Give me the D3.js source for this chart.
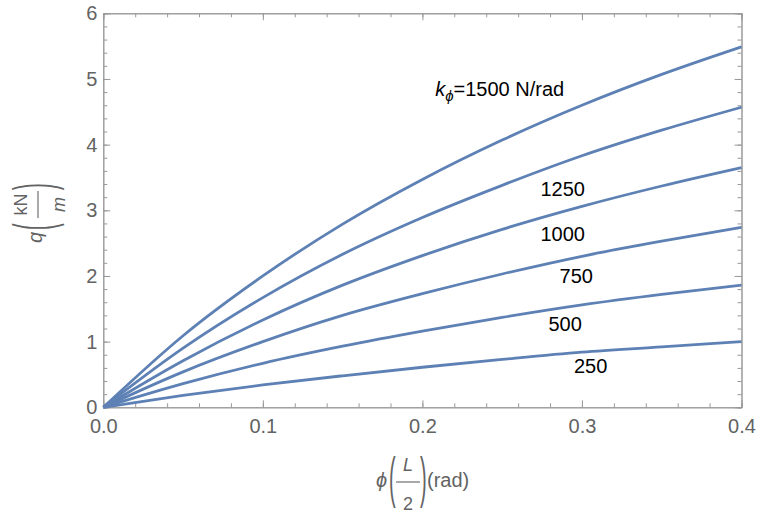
<!DOCTYPE html>
<html>
<head>
<meta charset="utf-8">
<script src="https://cdn.jsdelivr.net/npm/d3@7"></script>
<style>
  body { margin: 0; background: #fff; }
  svg { display: block; }
  text { font-family: "Liberation Sans", Arial, sans-serif; }
</style>
</head>
<body>
<div id="chart"></div>
<script>
// Data: q (kN/m) against phi(L/2) (rad), one series per k_phi
const phi   = [0, 0.05, 0.10, 0.15, 0.20, 0.25, 0.30, 0.35, 0.40];
const q1500 = [0, 1.09, 2.00, 2.79, 3.47, 4.07, 4.60, 5.07, 5.49];
const q1250 = [0, 0.90, 1.67, 2.33, 2.89, 3.38, 3.83, 4.22, 4.57];
const q1000 = [0, 0.71, 1.33, 1.86, 2.31, 2.71, 3.06, 3.37, 3.65];
const q750  = [0, 0.54, 1.00, 1.40, 1.73, 2.03, 2.30, 2.53, 2.74];
const q500  = [0, 0.36, 0.67, 0.93, 1.16, 1.37, 1.56, 1.72, 1.86];
const q250  = [0, 0.18, 0.34, 0.48, 0.61, 0.73, 0.84, 0.92, 1.00];

const stiffness = [1500, 1250, 1000, 750, 500, 250];
const series = [q1500, q1250, q1000, q750, q500, q250];

const xTicks = [0, 0.1, 0.2, 0.3, 0.4];
const yTicks = [0, 1, 2, 3, 4, 5, 6];

// where the curve labels sit, in data units (phi, q)
const labelAt = [[0.208, 4.74], [0.274, 3.22], [0.274, 2.54], [0.286, 1.90], [0.279, 1.16], [0.295, 0.52]];

////////////////////////////////////////////////////////////////

// SVG
const w = 757;
const h = 516;
const margin = {left: 103.3, right: 15.5, top: 13.3, bottom: 108.7};

const svg = d3.select("#chart")
    .append("svg")
    .attr("width", w)
    .attr("height", h);

const x = d3.scaleLinear().domain([0, 0.4]).range([margin.left, w - margin.right]);
const y = d3.scaleLinear().domain([0, 6]).range([h - margin.bottom, margin.top]);

const frameColor = "#999";
const labelColor = "#636363";
const lineColor = "#5E81B5";

////////////////////////////////////////////////////////////////

// FRAME + TICKS (inward, on all four sides)
const minorX = d3.range(0, 0.4001, 0.02);
const minorY = d3.range(0, 6.001, 0.2);

function styleAxis(g) {
    g.selectAll("path").attr("stroke", frameColor);
    g.selectAll("line").attr("stroke", frameColor);
    g.selectAll("text")
        .attr("fill", labelColor)
        .style("font-size", "20px");
}

function addAxis(axis, tx, ty) {
    svg.append("g")
        .attr("transform", "translate(" + tx + "," + ty + ")")
        .call(axis)
        .call(styleAxis);
}

const bottom = h - margin.bottom;
const right = w - margin.right;

// minor ticks
addAxis(d3.axisBottom(x).tickValues(minorX).tickSize(-4).tickFormat(""), 0, bottom);
addAxis(d3.axisTop(x).tickValues(minorX).tickSize(-4).tickFormat(""), 0, margin.top);
addAxis(d3.axisLeft(y).tickValues(minorY).tickSize(-4).tickFormat(""), margin.left, 0);
addAxis(d3.axisRight(y).tickValues(minorY).tickSize(-4).tickFormat(""), right, 0);

// major ticks with labels
addAxis(d3.axisBottom(x).tickValues(xTicks).tickSize(-7).tickSizeOuter(0)
    .tickPadding(11.5).tickFormat(d3.format(".1f")), 0, bottom);
addAxis(d3.axisTop(x).tickValues(xTicks).tickSize(-7).tickSizeOuter(0).tickFormat(""), 0, margin.top);
addAxis(d3.axisLeft(y).tickValues(yTicks).tickSize(-7).tickSizeOuter(0)
    .tickPadding(6).tickFormat(d3.format("d")), margin.left, 0);
addAxis(d3.axisRight(y).tickValues(yTicks).tickSize(-7).tickSizeOuter(0).tickFormat(""), right, 0);

////////////////////////////////////////////////////////////////

// CURVES
const line = d3.line()
    .x((d, i) => x(phi[i]))
    .y(d => y(d))
    .curve(d3.curveMonotoneX);

svg.append("g")
    .selectAll("path")
    .data(series)
    .enter()
    .append("path")
    .attr("d", d => line(d))
    .attr("fill", "none")
    .attr("stroke", lineColor)
    .attr("stroke-width", 2.8)
    .attr("stroke-linejoin", "round");

// curve labels
const labels = svg.append("g")
    .style("font-size", "20px")
    .attr("fill", "#000");

stiffness.forEach((k, i) => {
    const t = labels.append("text")
        .attr("x", x(labelAt[i][0]))
        .attr("y", y(labelAt[i][1]));
    if (i === 0) {
        t.append("tspan").style("font-style", "italic").text("k");
        t.append("tspan").style("font-style", "italic").style("font-size", "15px")
            .attr("dy", 4.5).text("ϕ");
        t.append("tspan").attr("dy", -4.5).text("=" + k + " N/rad");
    } else {
        t.text(k);
    }
});

////////////////////////////////////////////////////////////////

// AXIS TITLES (Mathematica style fractions in stretched parentheses)
function paren(g, ch, px, cy) {
    g.append("text")
        .attr("transform", "translate(" + px + "," + cy + ") scale(1,2.75)")
        .attr("y", 5)
        .style("font-size", "20px")
        .style("font-weight", "300")
        .text(ch);
}

// x title: phi(L/2)(rad)
const xt = svg.append("g").attr("fill", labelColor);
const xBar = 482;
xt.append("text").attr("x", 376).attr("y", 487).style("font-size", "20px")
    .style("font-style", "italic").text("ϕ");
paren(xt, "(", 389, xBar);
xt.append("line").attr("x1", 396).attr("x2", 420).attr("y1", xBar).attr("y2", xBar)
    .attr("stroke", labelColor).attr("stroke-width", 1.1);
xt.append("text").attr("x", 408).attr("y", xBar - 11).attr("text-anchor", "middle")
    .style("font-size", "18px").style("font-style", "italic").text("L");
xt.append("text").attr("x", 408).attr("y", xBar + 28).attr("text-anchor", "middle")
    .style("font-size", "18px").text("2");
paren(xt, ")", 420, xBar);
xt.append("text").attr("x", 427).attr("y", 487).style("font-size", "20px").text("(rad)");

// y title: q(kN/m), rotated
const yt = svg.append("g").attr("fill", labelColor).attr("transform", "rotate(-90)");
const yBar = 38;
yt.append("text").attr("x", -243).attr("y", 42).style("font-size", "20px")
    .style("font-style", "italic").text("q");
paren(yt, "(", -230, yBar);
yt.append("line").attr("x1", -218).attr("x2", -191).attr("y1", yBar).attr("y2", yBar)
    .attr("stroke", labelColor).attr("stroke-width", 1.1);
yt.append("text").attr("x", -204.5).attr("y", yBar - 11).attr("text-anchor", "middle")
    .style("font-size", "18px").text("kN");
yt.append("text").attr("x", -204.5).attr("y", yBar + 27).attr("text-anchor", "middle")
    .style("font-size", "18px").style("font-style", "italic").text("m");
paren(yt, ")", -190, yBar);
</script>
</body>
</html>
